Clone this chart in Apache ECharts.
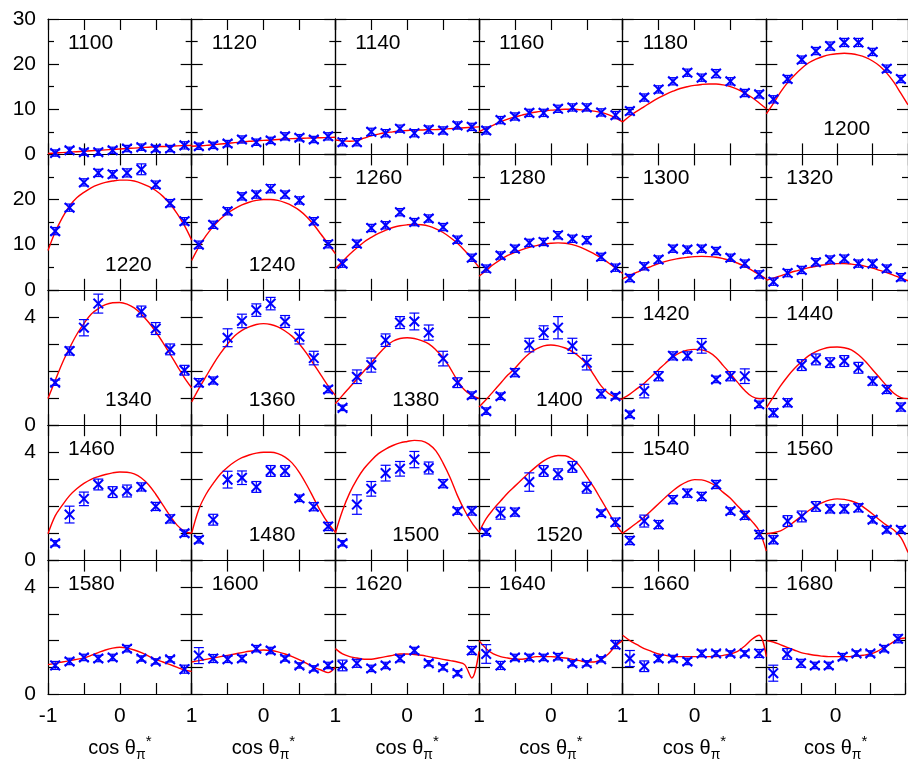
<!DOCTYPE html>
<html>
<head>
<meta charset="utf-8">
<script src="https://cdn.jsdelivr.net/npm/echarts@6/dist/echarts.min.js"></script>
<style>
  html, body { margin: 0; padding: 0; background: #fff; }
  #chart { width: 908px; height: 763px; }
</style>
</head>
<body>
<div id="chart"></div>
<script>
// Angular bins (cos theta) where the measured points sit
const binCenters = [-0.9, -0.7, -0.5, -0.3, -0.1, 0.1, 0.3, 0.5, 0.7, 0.9];
// Abscissae where the model curves are sampled
const fitX = [-1, -0.9, -0.8, -0.7, -0.6, -0.5, -0.4, -0.3, -0.2, -0.1, 0, 0.1, 0.2, 0.3, 0.4, 0.5, 0.6, 0.7, 0.8, 0.9, 1];
// Energy of each panel, row by row
const energies = [1100, 1120, 1140, 1160, 1180, 1200,
                  1220, 1240, 1260, 1280, 1300, 1320,
                  1340, 1360, 1380, 1400, 1420, 1440,
                  1460, 1480, 1500, 1520, 1540, 1560,
                  1580, 1600, 1620, 1640, 1660, 1680];
// Panels whose energy label sits near the bottom of the frame
const lowLabels = [1200, 1220, 1240, 1340, 1360, 1380, 1400, 1480, 1500, 1520];
const xTickLabels = ['-1', '0', '1'];

// ---- measured cross sections and errors ----
const pts1100 = [0.3, 0.9, 0.5, 0.5, 0.9, 1.3, 1.6, 1.3, 1.3, 2.0];
const err1100 = [0.7, 0.7, 0.7, 0.7, 0.7, 0.7, 0.7, 0.7, 0.7, 0.8];
const pts1120 = [1.8, 2.0, 2.4, 3.3, 2.7, 3.1, 4.0, 3.7, 3.3, 4.0];
const err1120 = [0.7, 0.7, 0.7, 0.8, 0.7, 0.7, 0.8, 0.7, 0.7, 0.8];
const pts1140 = [2.7, 2.7, 5.0, 4.7, 5.7, 4.7, 5.5, 5.3, 6.4, 6.1];
const err1140 = [0.8, 0.8, 0.8, 0.8, 0.8, 0.8, 0.8, 0.8, 0.8, 0.8];
const pts1160 = [5.3, 7.6, 8.4, 9.2, 9.2, 10.1, 10.4, 10.4, 9.3, 8.7];
const err1160 = [0.8, 0.8, 0.8, 0.8, 0.8, 0.8, 0.8, 0.8, 0.8, 0.8];
const pts1180 = [9.6, 12.6, 14.4, 16.2, 18.1, 17.0, 17.9, 16.2, 13.6, 13.3];
const err1180 = [0.8, 0.8, 0.8, 0.8, 0.8, 0.8, 0.9, 0.8, 0.8, 0.8];
const pts1200 = [12.2, 16.7, 21.0, 22.9, 24.0, 24.8, 24.8, 22.7, 19.0, 16.7];
const err1200 = [0.8, 0.8, 0.8, 0.8, 0.9, 0.9, 0.9, 0.8, 0.8, 0.8];
const pts1220 = [13.0, 18.2, 23.8, 25.9, 25.6, 25.9, 26.7, 23.3, 19.2, 15.2];
const err1220 = [0.8, 0.8, 0.8, 0.8, 0.8, 0.9, 1.2, 0.8, 0.8, 0.8];
const pts1240 = [10.0, 14.4, 17.4, 20.7, 21.1, 22.4, 21.1, 19.8, 15.2, 10.1];
const err1240 = [0.8, 0.8, 0.8, 0.8, 0.8, 0.9, 0.8, 0.8, 0.8, 0.8];
const pts1260 = [5.8, 10.2, 13.7, 14.3, 17.2, 15.0, 15.8, 13.9, 11.1, 7.1];
const err1260 = [0.8, 0.8, 0.8, 0.8, 0.8, 0.8, 0.8, 0.8, 0.8, 0.8];
const pts1280 = [4.7, 7.6, 9.1, 10.4, 10.6, 12.1, 11.3, 11.0, 7.3, 4.9];
const err1280 = [0.8, 0.8, 0.8, 0.8, 0.8, 0.8, 0.8, 0.8, 0.8, 0.8];
const pts1300 = [2.6, 5.2, 6.7, 9.1, 8.9, 9.1, 8.6, 7.1, 5.8, 3.4];
const err1300 = [0.8, 0.8, 0.8, 0.8, 0.8, 0.8, 0.8, 0.8, 0.8, 0.8];
const pts1320 = [1.8, 3.7, 4.4, 6.1, 6.7, 6.9, 5.8, 5.8, 4.7, 2.8];
const err1320 = [0.8, 0.8, 0.8, 0.8, 0.8, 0.8, 0.8, 0.8, 0.8, 0.8];
const pts1340 = [1.57, 2.74, 3.6, 4.49, null, null, 4.2, 3.57, 2.8, 2.03];
const err1340 = [0.1, 0.15, 0.3, 0.35, null, null, 0.2, 0.22, 0.2, 0.18];
const pts1360 = [1.57, 1.65, 3.23, 3.85, 4.25, 4.49, 3.83, 3.27, 2.48, 1.32];
const err1360 = [0.15, 0.13, 0.33, 0.25, 0.23, 0.23, 0.22, 0.27, 0.25, 0.12];
const pts1380 = [0.64, 1.79, 2.22, 3.14, 3.79, 3.83, 3.42, 2.46, 1.57, 1.11];
const err1380 = [0.1, 0.25, 0.26, 0.23, 0.22, 0.31, 0.28, 0.27, 0.18, 0.12];
const pts1400 = [0.52, 1.07, 1.94, 2.96, 3.42, 3.6, 2.93, 2.31, 1.16, 1.07];
const err1400 = [0.12, 0.12, 0.15, 0.25, 0.25, 0.41, 0.28, 0.27, 0.15, 0.1];
const pts1420 = [0.4, 1.26, 1.81, 2.56, 2.56, 2.93, 1.69, 1.81, 1.81, 0.77];
const err1420 = [0.12, 0.25, 0.17, 0.15, 0.15, 0.27, 0.12, 0.17, 0.27, 0.12];
const pts1440 = [0.46, 0.83, 2.22, 2.43, 2.31, 2.37, 2.12, 1.63, 1.32, 0.67];
const err1440 = [0.15, 0.15, 0.2, 0.2, 0.18, 0.2, 0.2, 0.15, 0.15, 0.15];
const pts1460 = [0.64, 1.7, 2.28, 2.81, 2.53, 2.57, 2.72, 2.0, 1.54, 1.01];
const err1460 = [0.1, 0.31, 0.25, 0.2, 0.2, 0.22, 0.15, 0.15, 0.15, 0.12];
const pts1480 = [0.77, 1.51, 2.99, 3.06, 2.72, 3.31, 3.31, 2.3, 1.99, 1.26];
const err1480 = [0.12, 0.2, 0.31, 0.25, 0.2, 0.2, 0.2, 0.12, 0.15, 0.15];
const pts1500 = [0.64, 2.07, 2.65, 3.23, 3.39, 3.73, 3.42, 2.84, 1.83, 1.83];
const err1500 = [0.1, 0.36, 0.27, 0.29, 0.27, 0.3, 0.22, 0.15, 0.12, 0.15];
const pts1520 = [1.05, 1.75, 1.79, 2.9, 3.31, 3.19, 3.46, 2.69, 1.75, 1.42];
const err1520 = [0.12, 0.22, 0.15, 0.34, 0.2, 0.2, 0.2, 0.2, 0.12, 0.15];
const pts1540 = [0.74, 1.46, 1.33, 2.25, 2.49, 2.37, 2.81, 1.83, 1.67, 0.96];
const err1540 = [0.15, 0.22, 0.15, 0.15, 0.15, 0.15, 0.15, 0.12, 0.15, 0.15];
const pts1560 = [0.77, 1.46, 1.63, 2.0, 1.91, 1.91, 1.95, 1.51, 1.14, 1.14];
const err1560 = [0.15, 0.2, 0.2, 0.18, 0.15, 0.15, 0.15, 0.12, 0.12, 0.12];
const pts1580 = [1.07, 1.22, 1.37, 1.33, 1.37, 1.7, 1.33, 1.22, 1.3, 0.93];
const err1580 = [0.15, 0.12, 0.12, 0.12, 0.12, 0.12, 0.1, 0.1, 0.1, 0.15];
const pts1600 = [1.44, 1.33, 1.3, 1.33, 1.7, 1.63, 1.33, 1.07, 0.96, 1.07];
const err1600 = [0.3, 0.15, 0.12, 0.12, 0.12, 0.12, 0.1, 0.1, 0.1, 0.12];
const pts1620 = [1.07, 1.15, 0.96, 1.07, 1.33, 1.63, 1.15, 1.0, 0.78, 1.63];
const err1620 = [0.2, 0.15, 0.12, 0.12, 0.12, 0.12, 0.1, 0.1, 0.1, 0.15];
const pts1640 = [1.5, 1.07, 1.37, 1.37, 1.37, 1.4, 1.15, 1.15, 1.3, 1.85];
const err1640 = [0.35, 0.15, 0.12, 0.12, 0.12, 0.12, 0.1, 0.1, 0.1, 0.15];
const pts1660 = [1.33, 1.04, 1.33, 1.33, 1.22, 1.52, 1.52, 1.52, 1.52, 1.52];
const err1660 = [0.3, 0.2, 0.12, 0.12, 0.12, 0.12, 0.1, 0.1, 0.1, 0.15];
const pts1680 = [0.78, 1.5, 1.15, 1.07, 1.07, 1.4, 1.52, 1.52, 1.7, 2.07];
const err1680 = [0.3, 0.2, 0.15, 0.12, 0.12, 0.12, 0.1, 0.1, 0.12, 0.15];

// ---- model curves sampled on fitX ----
const fit1100 = [0.2, 0.3, 0.4, 0.5, 0.6, 0.7, 0.8, 0.9, 1.0, 1.1, 1.2, 1.3, 1.4, 1.5, 1.6, 1.7, 1.75, 1.8, 1.9, 1.95, 2.0];
const fit1120 = [1.8, 1.9, 2.0, 2.15, 2.3, 2.45, 2.6, 2.75, 2.9, 3.0, 3.1, 3.2, 3.3, 3.4, 3.5, 3.55, 3.6, 3.65, 3.7, 3.75, 3.8];
const fit1140 = [3.2, 3.0, 2.9, 3.1, 3.6, 4.1, 4.5, 4.8, 5.0, 5.2, 5.3, 5.4, 5.4, 5.5, 5.5, 5.6, 5.7, 5.8, 5.9, 6.0, 6.1];
const fit1160 = [5.0, 5.8, 6.5, 7.2, 7.8, 8.3, 8.7, 9.1, 9.4, 9.6, 9.8, 9.9, 10.0, 10.0, 9.9, 9.8, 9.6, 9.3, 8.8, 8.1, 7.2];
const fit1180 = [7.2, 8.5, 9.6, 10.6, 11.6, 12.5, 13.3, 14.0, 14.6, 15.0, 15.3, 15.5, 15.6, 15.6, 15.4, 15.0, 14.4, 13.6, 12.6, 11.4, 10.1];
const fit1200 = [9.0, 11.3, 13.8, 15.9, 17.6, 19.1, 20.3, 21.1, 21.7, 22.1, 22.3, 22.4, 22.3, 22.0, 21.5, 20.7, 19.6, 18.0, 16.0, 13.5, 11.0];
const fit1220 = [8.7, 12.8, 16.0, 18.6, 20.4, 21.6, 22.6, 23.3, 23.8, 24.1, 24.3, 24.3, 24.1, 23.6, 22.9, 22.0, 20.7, 19.0, 16.8, 14.2, 11.0];
const fit1240 = [6.5, 9.5, 12.0, 14.0, 15.7, 17.0, 18.0, 18.8, 19.4, 19.8, 20.0, 20.0, 19.8, 19.3, 18.6, 17.6, 16.2, 14.4, 12.3, 10.2, 8.0];
const fit1260 = [4.7, 6.3, 7.9, 9.3, 10.6, 11.6, 12.5, 13.2, 13.8, 14.2, 14.4, 14.5, 14.4, 14.1, 13.5, 12.7, 11.6, 10.3, 8.7, 6.9, 5.0];
const fit1280 = [3.0, 4.3, 5.6, 6.7, 7.6, 8.3, 8.9, 9.4, 9.8, 10.1, 10.3, 10.4, 10.3, 10.0, 9.5, 8.8, 8.0, 7.1, 6.0, 4.8, 3.6];
const fit1300 = [2.4, 3.2, 3.9, 4.6, 5.2, 5.8, 6.3, 6.7, 7.0, 7.2, 7.35, 7.4, 7.35, 7.2, 6.9, 6.5, 5.9, 5.2, 4.3, 3.4, 2.4];
const fit1320 = [2.1, 2.6, 3.1, 3.6, 4.1, 4.5, 4.9, 5.2, 5.5, 5.7, 5.8, 5.8, 5.7, 5.5, 5.2, 4.8, 4.3, 3.8, 3.2, 2.6, 2.0];
const fit1340 = [0.99, 1.65, 2.3, 2.85, 3.35, 3.75, 4.1, 4.3, 4.45, 4.52, 4.53, 4.47, 4.33, 4.1, 3.8, 3.45, 3.05, 2.62, 2.18, 1.75, 1.38];
const fit1360 = [0.86, 1.35, 1.8, 2.25, 2.65, 3.0, 3.3, 3.5, 3.63, 3.72, 3.75, 3.72, 3.63, 3.48, 3.28, 3.0, 2.65, 2.25, 1.85, 1.45, 1.1];
const fit1380 = [0.79, 1.1, 1.4, 1.7, 2.0, 2.3, 2.62, 2.9, 3.1, 3.2, 3.23, 3.2, 3.12, 3.0, 2.78, 2.5, 2.1, 1.65, 1.3, 1.1, 0.99];
const fit1400 = [0.67, 0.95, 1.25, 1.55, 1.85, 2.1, 2.4, 2.65, 2.82, 2.93, 2.96, 2.93, 2.85, 2.72, 2.52, 2.25, 1.85, 1.45, 1.18, 1.03, 0.95];
const fit1420 = [0.99, 1.15, 1.35, 1.55, 1.8, 2.05, 2.3, 2.52, 2.68, 2.77, 2.8, 2.78, 2.7, 2.5, 2.2, 1.9, 1.58, 1.28, 1.06, 0.98, 0.99];
const fit1440 = [0.64, 1.05, 1.45, 1.8, 2.1, 2.35, 2.57, 2.72, 2.82, 2.88, 2.89, 2.86, 2.78, 2.6, 2.35, 2.05, 1.75, 1.45, 1.18, 1.02, 0.98];
const fit1460 = [0.99, 1.65, 2.05, 2.4, 2.65, 2.85, 3.0, 3.1, 3.18, 3.24, 3.27, 3.26, 3.2, 3.05, 2.8, 2.45, 2.05, 1.65, 1.3, 1.08, 1.01];
const fit1480 = [1.01, 1.9, 2.45, 2.85, 3.2, 3.45, 3.65, 3.8, 3.9, 3.97, 4.0, 4.0, 3.95, 3.82, 3.6, 3.25, 2.8, 2.3, 1.8, 1.38, 1.05];
const fit1500 = [1.01, 1.85, 2.5, 3.0, 3.4, 3.7, 3.95, 4.12, 4.25, 4.35, 4.4, 4.44, 4.42, 4.3, 4.05, 3.6, 3.05, 2.4, 1.85, 1.4, 1.05];
const fit1520 = [1.05, 1.55, 1.9, 2.2, 2.5, 2.75, 3.0, 3.25, 3.48, 3.68, 3.82, 3.88, 3.87, 3.75, 3.5, 3.1, 2.7, 2.25, 1.8, 1.35, 1.0];
const fit1540 = [1.01, 1.2, 1.4, 1.6, 1.85, 2.1, 2.35, 2.58, 2.78, 2.92, 2.99, 2.98, 2.9, 2.75, 2.52, 2.3, 2.02, 1.75, 1.45, 1.1, 0.35];
const fit1560 = [0.99, 1.03, 1.1, 1.25, 1.45, 1.65, 1.85, 2.02, 2.15, 2.24, 2.28, 2.26, 2.2, 2.1, 1.92, 1.72, 1.5, 1.3, 1.13, 0.85, 0.3];
const fit1580 = [1.1, 1.15, 1.2, 1.25, 1.3, 1.35, 1.45, 1.55, 1.65, 1.72, 1.75, 1.72, 1.65, 1.55, 1.42, 1.3, 1.2, 1.1, 1.0, 0.9, 0.85];
const fit1600 = [1.2, 1.25, 1.3, 1.35, 1.4, 1.45, 1.5, 1.55, 1.6, 1.63, 1.65, 1.63, 1.58, 1.5, 1.4, 1.28, 1.15, 1.0, 0.9, 0.8, 1.0];
const fit1620 = [1.7, 1.5, 1.4, 1.35, 1.3, 1.3, 1.35, 1.4, 1.45, 1.5, 1.5, 1.48, 1.45, 1.4, 1.35, 1.3, 1.25, 1.2, 1.1, 0.6, 1.6];
const fit1640 = [2.0, 1.7, 1.5, 1.4, 1.35, 1.3, 1.3, 1.35, 1.4, 1.4, 1.4, 1.38, 1.35, 1.3, 1.25, 1.2, 1.2, 1.3, 1.5, 1.8, 2.0];
const fit1660 = [2.2, 2.0, 1.85, 1.7, 1.6, 1.5, 1.45, 1.4, 1.4, 1.4, 1.4, 1.4, 1.4, 1.4, 1.45, 1.5, 1.6, 1.8, 2.05, 2.2, 1.4];
const fit1680 = [2.0, 1.95, 1.85, 1.75, 1.65, 1.55, 1.5, 1.45, 1.42, 1.4, 1.4, 1.4, 1.4, 1.42, 1.45, 1.5, 1.6, 1.75, 1.9, 2.05, 2.1];

const measured = {
  1100: [pts1100, err1100, fit1100], 1120: [pts1120, err1120, fit1120], 1140: [pts1140, err1140, fit1140],
  1160: [pts1160, err1160, fit1160], 1180: [pts1180, err1180, fit1180], 1200: [pts1200, err1200, fit1200],
  1220: [pts1220, err1220, fit1220], 1240: [pts1240, err1240, fit1240], 1260: [pts1260, err1260, fit1260],
  1280: [pts1280, err1280, fit1280], 1300: [pts1300, err1300, fit1300], 1320: [pts1320, err1320, fit1320],
  1340: [pts1340, err1340, fit1340], 1360: [pts1360, err1360, fit1360], 1380: [pts1380, err1380, fit1380],
  1400: [pts1400, err1400, fit1400], 1420: [pts1420, err1420, fit1420], 1440: [pts1440, err1440, fit1440],
  1460: [pts1460, err1460, fit1460], 1480: [pts1480, err1480, fit1480], 1500: [pts1500, err1500, fit1500],
  1520: [pts1520, err1520, fit1520], 1540: [pts1540, err1540, fit1540], 1560: [pts1560, err1560, fit1560],
  1580: [pts1580, err1580, fit1580], 1600: [pts1600, err1600, fit1600], 1620: [pts1620, err1620, fit1620],
  1640: [pts1640, err1640, fit1640], 1660: [pts1660, err1660, fit1660], 1680: [pts1680, err1680, fit1680]
};

// ---- layout ----
const NCOL = 6;
const FRAME_L = 48, FRAME_T = 19, CELL_W = 143.67, CELL_H = 135.4;
const FONT = "'Liberation Sans', Arial, Helvetica, sans-serif";
const INK = '#000';
const BLUE = '#0000ff';

// Cross marker with a capped vertical error bar
function renderErrorBar(params, api) {
  const x = api.value(0), y = api.value(1), e = api.value(2);
  const c = api.coord([x, y]);
  const hi = api.coord([x, y + e]);
  const lo = api.coord([x, y - e]);
  const cap = 5, arm = 4.8;
  const thin = { stroke: BLUE, lineWidth: 1.2 };
  const bold = { stroke: BLUE, lineWidth: 2 };
  return {
    type: 'group',
    children: [
      { type: 'line', shape: { x1: c[0], y1: hi[1], x2: c[0], y2: lo[1] }, style: thin },
      { type: 'line', shape: { x1: c[0] - cap, y1: hi[1], x2: c[0] + cap, y2: hi[1] }, style: thin },
      { type: 'line', shape: { x1: c[0] - cap, y1: lo[1], x2: c[0] + cap, y2: lo[1] }, style: thin },
      { type: 'line', shape: { x1: c[0] - arm, y1: c[1] - arm, x2: c[0] + arm, y2: c[1] + arm }, style: bold },
      { type: 'line', shape: { x1: c[0] - arm, y1: c[1] + arm, x2: c[0] + arm, y2: c[1] - arm }, style: bold }
    ]
  };
}

const grids = [], xAxes = [], yAxes = [], series = [], graphics = [];
const nRows = energies.length / NCOL;

energies.forEach(function (energy, i) {
  const r = Math.floor(i / NCOL), c = i % NCOL;
  const left = FRAME_L + c * CELL_W, top = FRAME_T + r * CELL_H;
  const bigScale = r < 2;
  const isBottom = r === nRows - 1;
  const isLastCol = c === NCOL - 1;

  grids.push({ left: left, top: top, width: CELL_W, height: CELL_H });

  const lineStyle = { color: INK, width: 1.2 };
  const xBase = {
    type: 'value', min: -1, max: 1, interval: 0.5, gridIndex: i,
    axisLine: { show: true, onZero: false, lineStyle: lineStyle },
    axisTick: { show: true, inside: true, length: 11, lineStyle: lineStyle },
    splitLine: { show: false }
  };
  xAxes.push(Object.assign({}, xBase, {
    position: 'bottom',
    axisLabel: {
      show: isBottom, margin: 12, fontSize: 21, fontFamily: FONT, color: INK,
      formatter: function (v) {
        const s = v === -1 ? xTickLabels[0] : v === 0 ? xTickLabels[1] : v === 1 ? xTickLabels[2] : '';
        if (v === -1 && c > 0) return '';
        if (v === 1 && isLastCol) return '';
        return s;
      }
    },
    name: isBottom ? '{a|cos θ}{b|π}{c|*}' : '',
    nameLocation: 'middle',
    nameGap: 40,
    nameTextStyle: {
      color: INK, fontFamily: FONT, fontSize: 20,
      rich: {
        a: { fontSize: 20, fontFamily: FONT, color: INK, lineHeight: 28, verticalAlign: 'middle' },
        b: { fontSize: 14, fontFamily: FONT, color: INK, lineHeight: 14, verticalAlign: 'bottom' },
        c: { fontSize: 15, fontFamily: FONT, color: INK, lineHeight: 15, verticalAlign: 'top' }
      }
    }
  }));
  xAxes.push(Object.assign({}, xBase, { position: 'top', axisLabel: { show: false } }));

  const yBase = {
    type: 'value', min: 0, gridIndex: i,
    max: bigScale ? 30 : 5,
    interval: bigScale ? 10 : 1,
    axisLine: { show: true, onZero: false, lineStyle: lineStyle },
    axisTick: { show: true, inside: true, length: 11, lineStyle: lineStyle },
    minorTick: { show: bigScale, splitNumber: 2, length: 6, lineStyle: lineStyle },
    splitLine: { show: false }
  };
  yAxes.push(Object.assign({}, yBase, {
    position: 'left',
    axisLabel: {
      show: c === 0, margin: 12, fontSize: 21, fontFamily: FONT, color: INK,
      formatter: function (v) {
        if (bigScale) return (r > 0 && v === 30) ? '' : String(v);
        return (v === 0 || v === 4) ? String(v) : '';
      }
    }
  }));
  yAxes.push(Object.assign({}, yBase, { position: 'right', axisLabel: { show: false } }));

  const set = measured[energy];
  const pts = set[0], errs = set[1], fit = set[2];

  series.push({
    type: 'line',
    xAxisIndex: 2 * i, yAxisIndex: 2 * i,
    data: fitX.map(function (x, k) { return [x, fit[k]]; }),
    smooth: 0.35,
    showSymbol: false,
    lineStyle: { color: '#ff0000', width: 1.4 },
    z: 3
  });

  const bars = [];
  binCenters.forEach(function (x, k) {
    if (pts[k] !== null) bars.push([x, pts[k], errs[k]]);
  });
  series.push({
    type: 'custom',
    xAxisIndex: 2 * i, yAxisIndex: 2 * i,
    renderItem: renderErrorBar,
    data: bars,
    z: 4
  });

  const low = lowLabels.indexOf(energy) >= 0;
  graphics.push({
    type: 'text',
    x: left + (low ? 57 : 20),
    y: low ? top + CELL_H - 25 : top + 24,
    style: {
      text: String(energy), fontSize: 21, fontFamily: FONT, fill: INK,
      align: 'left', verticalAlign: 'middle'
    },
    z: 10
  });
});

const chart = echarts.init(document.getElementById('chart'), null, { renderer: 'canvas' });
chart.setOption({
  animation: false,
  backgroundColor: '#fff',
  grid: grids,
  xAxis: xAxes,
  yAxis: yAxes,
  series: series,
  graphic: graphics
});
</script>
</body>
</html>
